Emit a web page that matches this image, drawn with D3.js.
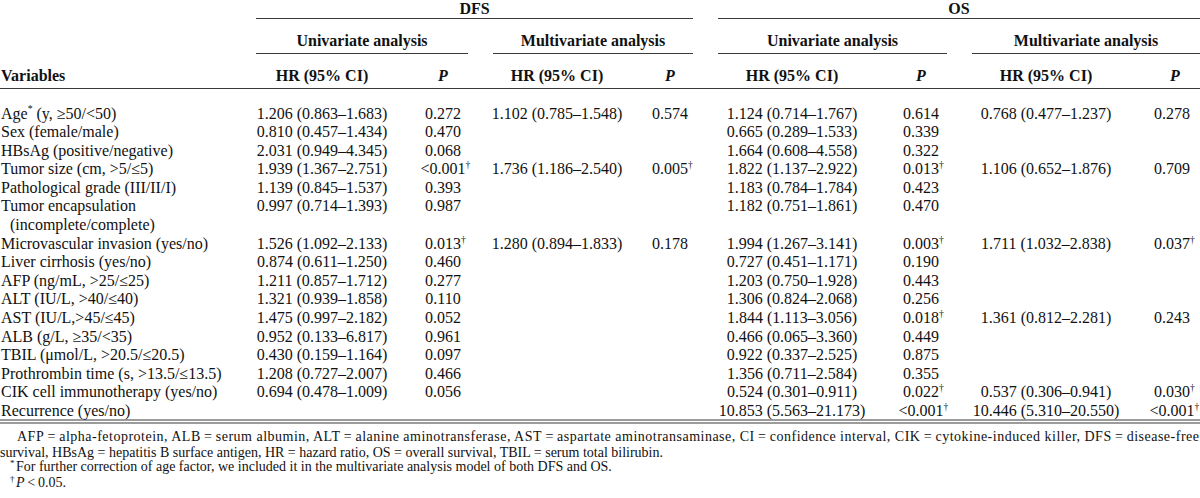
<!DOCTYPE html>
<meta charset="utf-8">
<script src="https://d3js.org/d3.v7.min.js"></script>
<style>
  body { margin: 0; background: #fff; }
  svg { display: block; font-family: "Liberation Serif", "Times New Roman", serif; }
</style>
<svg></svg>
<script>

    var width = 1200;
    var height = 498;

    // table content
    var variables = [
        "Age* (y, ≥50/<50)",
        "Sex (female/male)",
        "HBsAg (positive/negative)",
        "Tumor size (cm, >5/≤5)",
        "Pathological grade (III/II/I)",
        "Tumor encapsulation|(incomplete/complete)",
        "Microvascular invasion (yes/no)",
        "Liver cirrhosis (yes/no)",
        "AFP (ng/mL, >25/≤25)",
        "ALT (IU/L, >40/≤40)",
        "AST (IU/L,>45/≤45)",
        "ALB (g/L, ≥35/<35)",
        "TBIL (μmol/L, >20.5/≤20.5)",
        "Prothrombin time (s, >13.5/≤13.5)",
        "CIK cell immunotherapy (yes/no)",
        "Recurrence (yes/no)"
    ];
    var dfsUniHR = ["1.206 (0.863–1.683)", "0.810 (0.457–1.434)", "2.031 (0.949–4.345)", "1.939 (1.367–2.751)",
        "1.139 (0.845–1.537)", "0.997 (0.714–1.393)", "1.526 (1.092–2.133)", "0.874 (0.611–1.250)",
        "1.211 (0.857–1.712)", "1.321 (0.939–1.858)", "1.475 (0.997–2.182)", "0.952 (0.133–6.817)",
        "0.430 (0.159–1.164)", "1.208 (0.727–2.007)", "0.694 (0.478–1.009)", ""];
    var dfsUniP = ["0.272", "0.470", "0.068", "<0.001†", "0.393", "0.987", "0.013†", "0.460",
        "0.277", "0.110", "0.052", "0.961", "0.097", "0.466", "0.056", ""];
    var dfsMultiHR = ["1.102 (0.785–1.548)", "", "", "1.736 (1.186–2.540)", "", "", "1.280 (0.894–1.833)", "",
        "", "", "", "", "", "", "", ""];
    var dfsMultiP = ["0.574", "", "", "0.005†", "", "", "0.178", "", "", "", "", "", "", "", "", ""];
    var osUniHR = ["1.124 (0.714–1.767)", "0.665 (0.289–1.533)", "1.664 (0.608–4.558)", "1.822 (1.137–2.922)",
        "1.183 (0.784–1.784)", "1.182 (0.751–1.861)", "1.994 (1.267–3.141)", "0.727 (0.451–1.171)",
        "1.203 (0.750–1.928)", "1.306 (0.824–2.068)", "1.844 (1.113–3.056)", "0.466 (0.065–3.360)",
        "0.922 (0.337–2.525)", "1.356 (0.711–2.584)", "0.524 (0.301–0.911)", "10.853 (5.563–21.173)"];
    var osUniP = ["0.614", "0.339", "0.322", "0.013†", "0.423", "0.470", "0.003†", "0.190",
        "0.443", "0.256", "0.018†", "0.449", "0.875", "0.355", "0.022†", "<0.001†"];
    var osMultiHR = ["0.768 (0.477–1.237)", "", "", "1.106 (0.652–1.876)", "", "", "1.711 (1.032–2.838)", "",
        "", "", "1.361 (0.812–2.281)", "", "", "", "0.537 (0.306–0.941)", "10.446 (5.310–20.550)"];
    var osMultiP = ["0.278", "", "", "0.709", "", "", "0.037†", "", "", "", "0.243", "", "", "", "0.030†", "<0.001†"];

    var groups = ["DFS", "OS"];
    var analyses = ["Univariate analysis", "Multivariate analysis", "Univariate analysis", "Multivariate analysis"];
    var columnHeads = ["HR (95% CI)", "P", "HR (95% CI)", "P", "HR (95% CI)", "P", "HR (95% CI)", "P"];

    var footnotes = [
        "AFP\u2009=\u2009alpha-fetoprotein, ALB\u2009=\u2009serum albumin, ALT\u2009=\u2009alanine aminotransferase, AST\u2009=\u2009aspartate aminotransaminase, CI\u2009=\u2009confidence interval, CIK\u2009=\u2009cytokine-induced killer, DFS\u2009=\u2009disease-free",
        "survival, HBsAg = hepatitis B surface antigen, HR = hazard ratio, OS = overall survival, TBIL = serum total bilirubin.",
        "*For further correction of age factor, we included it in the multivariate analysis model of both DFS and OS.",
        "†P\u2009<\u20090.05."
    ];

    var columns = [dfsUniHR, dfsUniP, dfsMultiHR, dfsMultiP, osUniHR, osUniP, osMultiHR, osMultiP];

    // layout
    var colX = d3.scaleOrdinal(d3.range(8), [322, 443, 557, 670, 792, 921, 1046, 1172]);
    var groupSpan = d3.scaleOrdinal(groups, [[256, 693], [718, 1200]]);
    var analysisSpan = d3.scaleOrdinal(d3.range(4), [[256, 468], [493, 693], [718, 947], [972, 1200]]);

    // each variable takes one or more printed lines
    var lineStart = [];
    var n = 0;
    variables.forEach(function(v) { lineStart.push(n); n += v.split("|").length; });
    var y = d3.scaleLinear().domain([0, n - 1]).range([118.5, 416]);

    var svg = d3.select("svg")
        .attr("width", width)
        .attr("height", height)
        .attr("viewBox", [0, 0, width, height]);

    var ink = "#111";
    var rule = "#3a3a3a";

    // write text with * and † as superscripts
    function richText(sel, str, size) {
        var parts = str.split(/([*†])/).filter(function(s) { return s !== ""; });
        var up = false;
        parts.forEach(function(p) {
            if (p === "*" || p === "†") {
                sel.append("tspan").attr("dy", -size * 0.38).attr("font-size", size * 0.6).text(p);
                up = true;
            } else {
                var t = sel.append("tspan").text(p);
                if (up) { t.attr("dy", size * 0.38); up = false; }
            }
        });
        return sel;
    }

    // rules
    function hline(x1, x2, yy) {
        svg.append("line").attr("x1", x1).attr("x2", x2).attr("y1", yy).attr("y2", yy)
            .attr("stroke", rule).attr("stroke-width", 1.2);
    }

    groups.forEach(function(g) {
        var s = groupSpan(g);
        hline(s[0], s[1], 18.5);
        svg.append("text")
            .attr("x", (s[0] + s[1]) / 2).attr("y", 13.5)
            .attr("text-anchor", "middle").attr("font-weight", "bold")
            .attr("font-size", 16).attr("fill", ink)
            .text(g);
    });

    analyses.forEach(function(a, i) {
        var s = analysisSpan(i);
        hline(s[0], s[1], 53.5);
        svg.append("text")
            .attr("x", (s[0] + s[1]) / 2).attr("y", 46)
            .attr("text-anchor", "middle").attr("font-weight", "bold")
            .attr("font-size", 16).attr("fill", ink)
            .text(a);
    });

    svg.append("text")
        .attr("x", 1).attr("y", 81)
        .attr("font-weight", "bold").attr("font-size", 16).attr("fill", ink)
        .text("Variables");

    columnHeads.forEach(function(h, i) {
        svg.append("text")
            .attr("x", i === 7 ? 1175 : colX(i)).attr("y", 81)
            .attr("text-anchor", "middle").attr("font-weight", "bold")
            .attr("font-style", h === "P" ? "italic" : "normal")
            .attr("font-size", 16).attr("fill", ink)
            .text(h);
    });

    hline(0, width, 88.5);

    // body
    var body = svg.append("g").attr("font-size", 16).attr("fill", ink);

    variables.forEach(function(v, r) {
        v.split("|").forEach(function(line, k) {
            richText(body.append("text")
                .attr("x", k === 0 ? 1 : 10)
                .attr("y", y(lineStart[r] + k)), line, 16);
        });
    });

    columns.forEach(function(col, c) {
        col.forEach(function(val, r) {
            if (!val) return;
            var t = body.append("text")
                .attr("x", colX(c))
                .attr("y", y(lineStart[r]))
                .attr("text-anchor", c % 2 === 1 ? "start" : "middle");
            richText(t, val, 16);
            if (c % 2 === 1) {
                // centre the value itself, the dagger hangs to the right
                var base = val.replace("†", "");
                var tmp = body.append("text").text(base);
                var w = tmp.node().getComputedTextLength();
                tmp.remove();
                t.attr("x", colX(c) - w / 2);
            }
        });
    });

    // closing double rule
    hline(0, width, 420);
    hline(0, width, 423);

    // footnotes
    var foot = svg.append("g").attr("font-size", 14).attr("fill", ink);
    var fy = [441, 456.5, 471, 486.5];
    var fx = [17, 0, 10, 10];
    footnotes.forEach(function(f, i) {
        var t = foot.append("text").attr("x", fx[i]).attr("y", fy[i]);
        if (i === 0) t.attr("textLength", 1199 - fx[0]).attr("lengthAdjust", "spacing");
        if (i >= 2) {
            var mark = f.charAt(0);
            var rest = f.slice(1);
            t.append("tspan").attr("dy", -5).attr("font-size", 9).text(mark);
            var r = t.append("tspan").attr("dy", 5).attr("dx", 1.5);
            if (i === 3) {
                r.append("tspan").attr("font-style", "italic").text("P");
                t.append("tspan").text(rest.slice(1));
            } else {
                r.text(rest);
            }
        } else {
            t.text(f);
        }
    });

</script>
